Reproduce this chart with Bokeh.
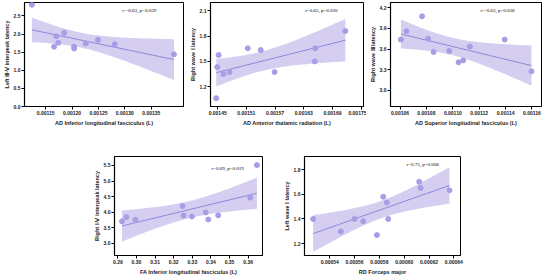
import numpy as np
from bokeh.plotting import figure
from bokeh.layouts import column, row
from bokeh.models import (Spacer, FixedTicker, PrintfTickFormatter, Range1d,
                          ColumnDataSource, Label)
from bokeh.embed import file_html
from bokeh.resources import INLINE

# ---- data: one x/y pair per panel (11 subjects each) ----
ad_ilf_x = [0.001124, 0.001170, 0.001166, 0.001174, 0.001185, 0.001204,
            0.001204, 0.001226, 0.001249, 0.001281, 0.001393]
left_3_5_ipl = [2.81, 1.94, 1.65, 1.76, 2.03, 1.65, 1.60, 1.74, 1.84, 1.72, 1.44]

ad_atr_x = [0.001449, 0.001452, 0.001462, 0.001475, 0.001447, 0.001513,
            0.001540, 0.001569, 0.001654, 0.001653, 0.001717]
right_wave1 = [1.433, 1.576, 1.350, 1.374, 1.064, 1.656, 1.636, 1.374, 1.656, 1.500, 1.862]

ad_slf_x = [0.0010607, 0.0010649, 0.0010767, 0.0010812, 0.0010854, 0.0010973,
            0.0011044, 0.0011079, 0.0011129, 0.0011393, 0.0011596]
right_wave3 = [3.737, 3.858, 4.076, 3.751, 3.556, 3.571, 3.406, 3.435, 3.635, 3.737, 3.275]

fa_ilf_x = [0.2922, 0.2946, 0.2994, 0.3248, 0.3253, 0.3298, 0.3372, 0.3386,
            0.3439, 0.3611, 0.3647]
right_1_5_ipl = [3.705, 3.842, 3.753, 4.20, 3.893, 3.863, 3.991, 3.765, 3.90, 4.467, 5.51]

rd_fmaj_x = [0.0005266, 0.0005489, 0.00056, 0.000567, 0.000578, 0.0005831,
             0.000586, 0.0005871, 0.0006121, 0.0006132, 0.0006365]
left_wave1 = [1.40, 1.299, 1.40, 1.382, 1.27, 1.58, 1.533, 1.40, 1.702, 1.651, 1.632]

stats_text = ["r=-0.63, p=0.039", "r=0.65, p=0.030", "r=-0.63, p=0.038",
              "r=0.69, p=0.019", "r=0.75, p=0.008"]

# tick positions for each panel
x_ticks = [
    [0.00115, 0.00120, 0.00125, 0.00130, 0.00135],
    [0.00145, 0.00151, 0.00157, 0.00163, 0.00169, 0.00175],
    [0.00106, 0.00108, 0.00110, 0.00112, 0.00114, 0.00116],
    [0.29, 0.30, 0.31, 0.32, 0.33, 0.34, 0.35, 0.36],
    [0.00054, 0.00056, 0.00058, 0.00060, 0.00062, 0.00064],
]
y_ticks = [
    [0.0, 0.5, 1.0, 1.5, 2.0, 2.5],
    [1.2, 1.5, 1.8, 2.1],
    [3.0, 3.3, 3.6, 3.9, 4.2],
    [3.0, 3.5, 4.0, 4.5, 5.0, 5.5],
    [1.2, 1.4, 1.6, 1.8],
]

POINT = "#a99de6"
LINE = "#8d83d9"
BAND = "#cfc6ee"
T_975_DF9 = 2.262  # two-sided 95% t quantile, 9 degrees of freedom


def fit_band(x, y, npts=60):
    x = np.asarray(x, float)
    y = np.asarray(y, float)
    n = len(x)
    b, a = np.polyfit(x, y, 1)
    resid = y - (a + b * x)
    s = np.sqrt(np.sum(resid ** 2) / (n - 2))
    xs = np.linspace(x.min(), x.max(), npts)
    se = s * np.sqrt(1.0 / n + (xs - x.mean()) ** 2 / np.sum((x - x.mean()) ** 2))
    yh = a + b * xs
    return xs, yh, yh - T_975_DF9 * se, yh + T_975_DF9 * se


def panel(x, y, xlab, ylab, xr, yr, xt, yt, xfmt, yfmt, stat, stat_xy,
          width, height, left, right, top, bottom):
    p = figure(width=width, height=height, output_backend="svg",
               toolbar_location=None, x_range=Range1d(*xr), y_range=Range1d(*yr),
               min_border_left=left, min_border_right=right,
               min_border_top=top, min_border_bottom=bottom)
    p.xgrid.visible = False
    p.ygrid.visible = False
    p.outline_line_color = "black"
    p.outline_line_width = 1
    p.background_fill_color = "white"
    p.border_fill_color = "white"

    xs, yh, lo, hi = fit_band(x, y)
    src = ColumnDataSource(dict(x=xs, y=yh, lo=lo, hi=hi))
    p.varea(x="x", y1="lo", y2="hi", source=src, fill_color=BAND, fill_alpha=0.85)
    p.line(x="x", y="y", source=src, line_color=LINE, line_width=1)
    p.scatter(x, y, size=5, fill_color=POINT, line_color=POINT, fill_alpha=1)

    for ax in (p.xaxis[0], p.yaxis[0]):
        ax.axis_line_color = "black"
        ax.axis_line_width = 1.2
        ax.major_tick_line_color = "black"
        ax.major_tick_line_width = 1
        ax.major_tick_out = 3
        ax.major_tick_in = 0
        ax.minor_tick_line_color = None
        ax.major_label_text_font = "Liberation Sans"
        ax.major_label_text_font_style = "bold"
        ax.major_label_text_font_size = "5px"
        ax.major_label_text_color = "#222222"
        ax.major_label_standoff = 1
        ax.axis_label_text_font = "Liberation Sans"
        ax.axis_label_text_font_style = "bold"
        ax.axis_label_text_font_size = "5.5px"
        ax.axis_label_text_color = "#222222"
        ax.axis_label_standoff = 2
    p.xaxis[0].ticker = FixedTicker(ticks=xt)
    p.yaxis[0].ticker = FixedTicker(ticks=yt)
    p.xaxis[0].formatter = PrintfTickFormatter(format=xfmt)
    p.yaxis[0].formatter = PrintfTickFormatter(format=yfmt)
    p.xaxis[0].axis_label = xlab
    p.yaxis[0].axis_label = ylab
    p.yaxis[0].axis_label_standoff = 1

    p.add_layout(Label(x=stat_xy[0], y=stat_xy[1], text=stat,
                       text_font="Liberation Serif", text_font_size="5px",
                       text_color="black", text_baseline="middle", text_align="left"))
    return p


p1 = panel(ad_ilf_x, left_3_5_ipl, "AD Inferior longitudinal fasciculus (L)",
           "Left Ⅲ-Ⅴ interpeak latency", (0.00111, 0.001411), (0.0, 2.87),
           x_ticks[0], y_ticks[0], "%.5f", "%.1f", stats_text[0], (0.001295, 2.64),
           186, 130, 18, 3, 2, 24)
p2 = panel(ad_atr_x, right_wave1, "AD Anterior thalamic radiation (L)",
           "Right wave Ⅰ latency", (0.001435, 0.001755), (0.965, 2.2),
           x_ticks[1], y_ticks[1], "%.5f", "%.1f", stats_text[1], (0.001633, 2.108),
           180, 130, 17, 3, 2, 24)
p3 = panel(ad_slf_x, right_wave3, "AD Superior longitudinal fasciculus (L)",
           "Right wave Ⅲ latency", (0.0010528, 0.0011672), (2.763, 4.277),
           x_ticks[2], y_ticks[2], "%.5f", "%.1f", stats_text[2], (0.001121, 4.163),
           180, 130, 20, 5, 2, 24)
p4 = panel(fa_ilf_x, right_1_5_ipl, "FA Inferior longitudinal fasciculus (L)",
           "Right Ⅰ-Ⅴ interpeak latency", (0.2882, 0.3677), (2.61, 5.786),
           x_ticks[3], y_ticks[3], "%.2f", "%.1f", stats_text[3], (0.3403, 5.41),
           190, 147, 17, 18, 26, 18)
p5 = panel(rd_fmaj_x, left_wave1, "RD Forceps major",
           "Left wave Ⅰ latency", (0.0005196, 0.0006454), (1.104, 1.906),
           x_ticks[4], y_ticks[4], "%.5f", "%.1f", stats_text[4], (0.0006019, 1.84),
           190, 147, 24, 10, 26, 18)

layout = column(row(p1, p2, p3), row(Spacer(width=90, height=147), p4, p5))

open("out.html", "w").write(file_html(layout, INLINE))
